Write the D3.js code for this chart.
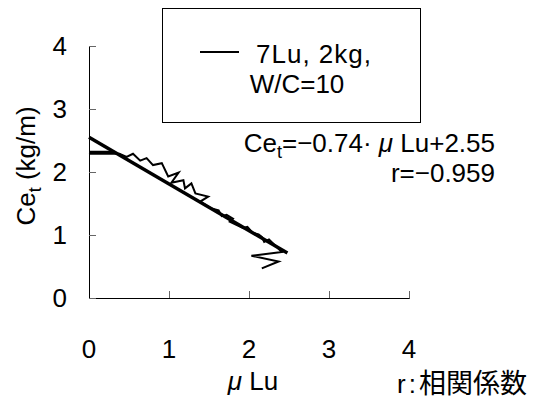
<!DOCTYPE html>
<html>
<head>
<meta charset="utf-8">
<script src="https://cdn.jsdelivr.net/npm/d3@7/dist/d3.min.js"></script>
<style>
  body { margin: 0; background: #fff; }
  svg text { font-family: "Liberation Sans", Arial, "Noto Sans CJK JP", sans-serif; fill: #000; }
</style>
</head>
<body>
<div id="chart"></div>
<script>
    'use strict';

    // measured series (muLu, Ce_t)
    var muLu = [0, 0.30, 0, 0.38, 0.47, 0.55, 0.64, 0.72, 0.80, 0.91, 0.99, 1.12, 1.03, 1.18, 1.20, 1.28,
                1.33, 1.49, 1.39, 1.53, 1.62, 1.66, 1.72, 1.80, 1.76, 1.93, 1.98, 2.05, 2.12, 2.16, 2.19,
                2.25, 2.41, 2.03, 2.37, 2.16];
    var cet  = [2.32, 2.32, 2.29, 2.29, 2.24, 2.29, 2.18, 2.22, 2.11, 2.14, 1.93, 1.99, 1.83, 1.87, 1.74, 1.82,
                1.66, 1.61, 1.53, 1.42, 1.39, 1.30, 1.32, 1.26, 1.21, 1.11, 1.13, 1.03, 1.01, 0.97, 0.89,
                0.93, 0.73, 0.67, 0.58, 0.47];

    // regression Ce_t = slope * muLu + intercept
    var slope = -0.74, intercept = 2.55;
    var fitRange = [0, 2.48];

    var xTicks = [0, 1, 2, 3, 4];
    var yTicks = [0, 1, 2, 3, 4];

    var width = 533, height = 403;
    var fs = "26px";
    var svg = d3.select("#chart").append("svg").attr("width", width).attr("height", height);

    var x = d3.scaleLinear().domain([0, 4]).range([89, 409]);
    var y = d3.scaleLinear().domain([0, 4]).range([298, 46]);

    // axes, ticks inward
    var xAxis = svg.append("g").attr("transform", "translate(0," + y(0) + ")")
        .call(d3.axisTop(x).tickValues(xTicks).tickSize(7).tickSizeOuter(7).tickFormat(""));
    var yAxis = svg.append("g").attr("transform", "translate(" + x(0) + ",0)")
        .call(d3.axisRight(y).tickValues(yTicks).tickSize(7).tickSizeOuter(7).tickFormat(""));
    [xAxis, yAxis].forEach(function(a){
        a.select(".domain").attr("stroke", "#000").attr("stroke-width", 1);
        a.selectAll(".tick line").attr("stroke", "#666").attr("stroke-width", 1);
    });

    // tick labels
    svg.selectAll(".xlab").data(xTicks).enter().append("text")
        .attr("x", function(d){ return x(d); }).attr("y", 358)
        .attr("text-anchor", "middle").attr("font-size", fs)
        .text(function(d){ return d; });
    svg.selectAll(".ylab").data(yTicks).enter().append("text")
        .attr("x", 67).attr("y", function(d){ return y(d) + 9; })
        .attr("text-anchor", "end").attr("font-size", fs)
        .text(function(d){ return d; });

    // data line
    var pts = muLu.map(function(v, i){ return [v, cet[i]]; });
    var line = d3.line().x(function(d){ return x(d[0]); }).y(function(d){ return y(d[1]); });
    svg.append("path").datum(pts).attr("d", line)
        .attr("fill", "none").attr("stroke", "#000").attr("stroke-width", 2).attr("stroke-linejoin", "miter");

    // regression line
    var fit = fitRange.map(function(v){ return [v, slope * v + intercept]; });
    svg.append("path").datum(fit).attr("d", line)
        .attr("fill", "none").attr("stroke", "#000").attr("stroke-width", 3.5);

    // legend box
    svg.append("rect").attr("x", 162.5).attr("y", 8.5).attr("width", 258).attr("height", 114)
        .attr("fill", "#fff").attr("stroke", "#000").attr("stroke-width", 1);
    svg.append("line").attr("x1", 200).attr("x2", 239).attr("y1", 52).attr("y2", 52)
        .attr("stroke", "#000").attr("stroke-width", 2);
    svg.append("text").attr("x", 256).attr("y", 63).attr("font-size", fs)
        .attr("letter-spacing", "1px").text("7Lu, 2kg,");
    svg.append("text").attr("x", 297).attr("y", 93).attr("text-anchor", "middle").attr("font-size", fs).text("W/C=10");

    // equation
    var eq = svg.append("text").attr("x", 495).attr("y", 152).attr("text-anchor", "end").attr("font-size", fs);
    eq.append("tspan").text("Ce");
    eq.append("tspan").attr("font-size", "18px").attr("dy", 6).text("t");
    eq.append("tspan").attr("dy", -6).text("=−" + Math.abs(slope).toFixed(2) + "· ");
    eq.append("tspan").attr("font-style", "italic").text("μ");
    eq.append("tspan").text(" Lu+" + intercept.toFixed(2));
    svg.append("text").attr("x", 495).attr("y", 182).attr("text-anchor", "end").attr("font-size", fs)
        .text("r=−0.959");

    // axis titles
    var yl = svg.append("text").attr("transform", "translate(35,166) rotate(-90)")
        .attr("text-anchor", "middle").attr("font-size", fs);
    yl.append("tspan").text("Ce");
    yl.append("tspan").attr("font-size", "18px").attr("dy", 6).text("t");
    yl.append("tspan").attr("dy", -6).text(" (kg/m)");

    var xl = svg.append("text").attr("x", 253).attr("y", 390).attr("text-anchor", "middle").attr("font-size", fs);
    xl.append("tspan").attr("font-style", "italic").text("μ");
    xl.append("tspan").text(" Lu");

    var note = svg.append("text").attr("x", 527).attr("y", 393).attr("text-anchor", "end").attr("font-size", fs);
    note.append("tspan").attr("letter-spacing", "3px").text("r:");
    note.append("tspan").attr("font-family", "\"Noto Sans CJK JP\", sans-serif").attr("font-size", "27px").text("相関係数");
</script>
</body>
</html>
